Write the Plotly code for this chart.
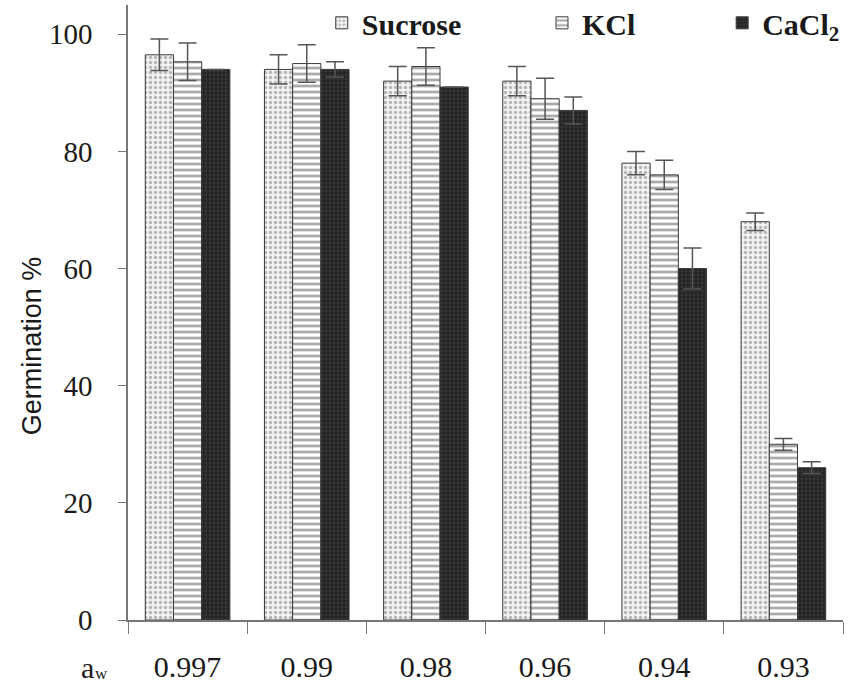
import plotly.graph_objects as go

categories = ["0.997", "0.99", "0.98", "0.96", "0.94", "0.93"]
sucrose = [96.5, 94.0, 92.0, 92.0, 78.0, 68.0]
sucrose_err = [2.7, 2.5, 2.5, 2.5, 2.0, 1.5]
kcl = [95.3, 95.0, 94.5, 89.0, 76.0, 30.0]
kcl_err = [3.2, 3.2, 3.2, 3.5, 2.5, 1.0]
cacl2 = [94.0, 94.0, 91.0, 87.0, 60.0, 26.0]
cacl2_err = [0.0, 1.3, 0.0, 2.3, 3.5, 1.0]

SERIF = "Liberation Serif"
SANS = "Liberation Sans"
EDGE = "#3a3a3a"
TXT = "#1a1a1a"

fig = go.Figure()

def add(name, vals, errs, fill, fg, shape, size, sol, legend):
    fig.add_trace(go.Bar(
        name=name, x=categories, y=vals, legend=legend,
        marker=dict(color=fill, line=dict(color=EDGE, width=1),
                    pattern=dict(shape=shape, fgcolor=fg, bgcolor=fill,
                                 size=size, solidity=sol, fillmode="overlay")),
        error_y=dict(type="data", array=errs, visible=True,
                     color="#555555", thickness=1.5, width=9),
    ))

add("Sucrose", sucrose, sucrose_err, "#f2f2f2", "#777777", ".", 5, 0.35, "legend")
add("KCl", kcl, kcl_err, "#ffffff", "#555555", "-", 6, 0.45, "legend2")
add("CaCl<sub>2</sub>", cacl2, cacl2_err, "#262626", "#4a4a4a", ".", 4, 0.3, "legend3")

def leg(x):
    return dict(x=x, y=0.971, xanchor="left", yanchor="middle", orientation="h",
                font=dict(family=SERIF, size=30, color=TXT, weight="bold"),
                bgcolor="rgba(0,0,0,0)", borderwidth=0)

fig.update_layout(
    width=850, height=685,
    margin=dict(l=128, r=7, t=5, b=65, autoexpand=False),
    paper_bgcolor="white", plot_bgcolor="white",
    barmode="group", bargap=0.29, bargroupgap=0,
    font=dict(family=SERIF, color=TXT),
    showlegend=True,
    legend=leg(0.271), legend2=leg(0.579), legend3=leg(0.831),
    xaxis=dict(type="category", tickson="boundaries", ticks="outside", ticklen=12,
               tickcolor="#777777", showline=True, linecolor="#777777", linewidth=1.5,
               showgrid=False, tickfont=dict(family=SERIF, size=30, color=TXT),
               ticklabelstandoff=19),
    yaxis=dict(range=[0, 105], tickvals=[0, 20, 40, 60, 80, 100], ticks="outside",
               ticklen=8, tickcolor="#777777", showline=True, linecolor="#777777",
               linewidth=1.5, showgrid=False, zeroline=False,
               tickfont=dict(family=SERIF, size=29, color=TXT),
               ticklabelstandoff=20),
)

fig.add_annotation(text="Germination %", xref="paper", yref="paper", x=-0.134, y=0.4455,
                   xanchor="center", yanchor="middle", textangle=-90, showarrow=False,
                   font=dict(family=SANS, size=27, color=TXT))

# a_w label: main letter and a small subscript
fig.add_annotation(text="a", xref="paper", yref="paper", x=-0.057, y=-0.078,
                   xanchor="center", yanchor="middle", showarrow=False,
                   font=dict(family=SERIF, size=30, color=TXT))
fig.add_annotation(text="w", xref="paper", yref="paper", x=-0.0365, y=-0.087,
                   xanchor="center", yanchor="middle", showarrow=False,
                   font=dict(family=SERIF, size=17, color=TXT))

fig.write_html("out.html")
